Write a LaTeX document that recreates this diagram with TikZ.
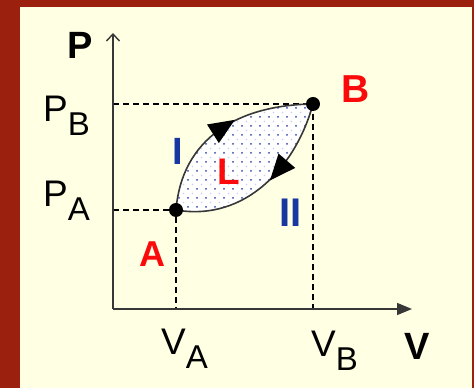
\documentclass[tikz,border=0pt]{standalone}
\usepackage{fontspec}
\setmainfont{Liberation Sans}
\usetikzlibrary{arrows.meta,decorations.markings,positioning}

\definecolor{marco}{RGB}{155,32,14}
\definecolor{fondo}{RGB}{255,255,228}
\definecolor{rojo}{RGB}{250,10,10}
\definecolor{azul}{RGB}{25,55,160}
\definecolor{puntos}{RGB}{50,70,175}
\definecolor{trazo}{RGB}{55,55,55}

\newcommand\lowsub[1]{\raisebox{-14pt}{\fontsize{33}{33}\selectfont #1}}
\newcommand\ciclo{(A) .. controls (182,250) and (238,283) .. (B) .. controls (296,222) and (246,166) .. (A)}
\newcommand\punta{\fill[black] (13,0) -- (-13,11) -- (-13,-11) -- cycle;}

\tikzset{
  eje/.style={draw=trazo, line width=1.6pt},
  guia/.style={draw=black, line width=1.5pt, dash pattern=on 6pt off 4pt},
  etiq/.style={font=\fontsize{37}{37}\selectfont, inner sep=0pt, anchor=base west},
  punto/.style={fill=black},
}

\begin{document}
\begin{tikzpicture}[x=1pt, y=1pt]
  % Fondo
  \fill[marco] (0,0) rectangle (474,388);
  \fill[fondo] (20,0) rectangle (472,381);

  % Puntos base
  \coordinate (O) at (113,79);
  \coordinate (ytop) at (113,355);
  \coordinate (xend) at (412,79);
  \coordinate (A) at (176,178);
  \coordinate (B) at (313,284);

  % Lineas de guia
  \draw[guia] (A -| O) -- (A) -- (A |- O);
  \draw[guia] (B -| O) -- (B) -- (B |- O);

  % Ejes
  \draw[eje, -{Straight Barb[length=7pt,width=13pt,line width=1.4pt]}] (O) -- (ytop);
  \draw[eje, -{Triangle[length=15pt,width=12pt]}] (O) -- (xend);

  % Ciclo
  \fill[white] \ciclo;
  \begin{scope}
    \clip \ciclo;
    \foreach \x in {170,179,...,320}
      \foreach \y in {172,181,...,292} {
        \fill[puntos] (\x,\y) circle (1);
        \fill[puntos!25] (\x+4.5,\y+4.5) circle (0.9);
      }
  \end{scope}
  \draw[trazo, line width=1.6pt, postaction={decorate}, decoration={markings,
      mark=at position 0.26 with {\punta},
      mark=at position 0.70 with {\punta}}] \ciclo;
  \fill[punto] (A) circle (7);
  \fill[punto] (B) circle (7);

  % Etiquetas
  \node[etiq, font=\fontsize{38}{38}\selectfont\bfseries] (lP) at (67,329) {P};
  \node[etiq, font=\fontsize{38}{38}\selectfont\bfseries] (lV) at (404,28) {V};
  \node[etiq] (lPB) at (43,266) {P\lowsub{B}};
  \node[etiq] (lPA) at (43,181) {P\lowsub{A}};
  \node[etiq] (lVA) at (161,33) {V\lowsub{A}};
  \node[etiq] (lVB) at (311,31) {V\lowsub{B}};
  \node[etiq, text=rojo, font=\fontsize{36}{36}\selectfont\bfseries] (lA) at (139,121) {A};
  \node[etiq, text=rojo, font=\fontsize{39}{39}\selectfont\bfseries] (lB) at (341,285) {B};
  \node[etiq, text=rojo, font=\fontsize{37}{37}\selectfont\bfseries] (lL) at (217,203) {L};
  \node[etiq, text=azul, font=\fontsize{38}{38}\selectfont\bfseries] (lI) at (172,223) {I};
  \node[etiq, text=azul, font=\fontsize{40}{40}\selectfont\bfseries] (lII) at (279,161) {II};
\end{tikzpicture}
\end{document}
